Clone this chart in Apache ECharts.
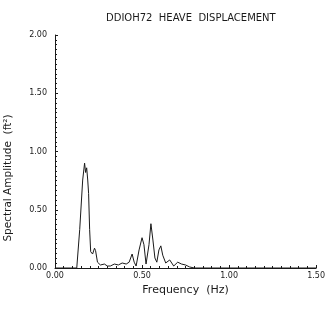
<!DOCTYPE html>
<html>
<head>
<meta charset="utf-8">
<script src="https://cdn.jsdelivr.net/npm/echarts@6/dist/echarts.min.js"></script>
<style>
  html, body { margin: 0; padding: 0; background: #fff; }
  #chart { width: 328px; height: 330px; }
</style>
</head>
<body>
<div id="chart"></div>
<script>
// Heave displacement spectrum, record DDIOH72
const frequency = [0, 0.034, 0.091, 0.125, 0.142, 0.159, 0.170, 0.176, 0.182, 0.188, 0.193, 0.199,
  0.205, 0.216, 0.227, 0.233, 0.244, 0.261, 0.284, 0.301, 0.318, 0.341, 0.364, 0.386, 0.409,
  0.426, 0.443, 0.455, 0.466, 0.483, 0.500, 0.511, 0.523, 0.540, 0.551, 0.5625, 0.574, 0.585,
  0.597, 0.608, 0.619, 0.636, 0.659, 0.682, 0.705, 0.727, 0.750, 0.773, 0.800, 1.0, 1.5];
const amplitude = [0, 0, 0, 0, 0.33, 0.755, 0.90, 0.82, 0.86, 0.755, 0.64, 0.33,
  0.14, 0.12, 0.17, 0.15, 0.05, 0.026, 0.034, 0.017, 0.017, 0.034, 0.026, 0.043, 0.034,
  0.05, 0.12, 0.05, 0.017, 0.155, 0.26, 0.20, 0.034, 0.20, 0.38, 0.24, 0.086, 0.05,
  0.155, 0.19, 0.11, 0.043, 0.069, 0.017, 0.05, 0.034, 0.026, 0.009, 0, 0, 0];
const xTicks = [0, 0.5, 1.0, 1.5];
const yTicks = [0, 0.5, 1.0, 1.5, 2.0];

const points = frequency.map((f, i) => [f, amplitude[i]]);
const ink = '#1a1a1a';
const font = '"DejaVu Sans", sans-serif';

const chart = echarts.init(document.getElementById('chart'), null, { renderer: 'canvas' });
chart.setOption({
  backgroundColor: '#fff',
  animation: false,
  title: {
    text: 'DDIOH72  HEAVE  DISPLACEMENT',
    left: 101,
    top: 8,
    textStyle: { fontFamily: font, fontSize: 10, fontWeight: 'normal', color: ink }
  },
  grid: { left: 55, right: 10, top: 35, bottom: 62 },
  graphic: [{
    type: 'text',
    x: 8,
    y: 178,
    rotation: Math.PI / 2,
    style: {
      text: 'Spectral Amplitude  (ft²)',
      fontFamily: font,
      fontSize: 10.5,
      fill: ink,
      align: 'center',
      verticalAlign: 'middle'
    }
  }],
  xAxis: {
    type: 'value',
    min: xTicks[0],
    max: xTicks[xTicks.length - 1],
    interval: 0.5,
    name: 'Frequency  (Hz)',
    nameLocation: 'middle',
    nameGap: 17,
    nameTextStyle: { fontFamily: font, fontSize: 11, color: ink },
    axisLine: { lineStyle: { color: ink, width: 1 } },
    axisTick: { show: true, inside: true, length: 3, lineStyle: { color: ink } },
    minorTick: { show: true, splitNumber: 10, length: 2, lineStyle: { color: ink } },
    splitLine: { show: false },
    axisLabel: {
      fontFamily: font, fontSize: 8, color: ink, margin: 4,
      formatter: v => v.toFixed(2)
    }
  },
  yAxis: {
    type: 'value',
    min: yTicks[0],
    max: yTicks[yTicks.length - 1],
    interval: 0.5,
    axisLine: { show: true, lineStyle: { color: ink, width: 1 } },
    axisTick: { show: true, inside: true, length: 3, lineStyle: { color: ink } },
    minorTick: { show: true, splitNumber: 12, length: 2, lineStyle: { color: ink } },
    splitLine: { show: false },
    axisLabel: {
      fontFamily: font, fontSize: 8, color: ink, margin: 8,
      formatter: v => v.toFixed(2)
    }
  },
  series: [{
    type: 'line',
    data: points,
    showSymbol: false,
    lineStyle: { color: ink, width: 1 },
    z: 3
  }]
});
</script>
</body>
</html>
